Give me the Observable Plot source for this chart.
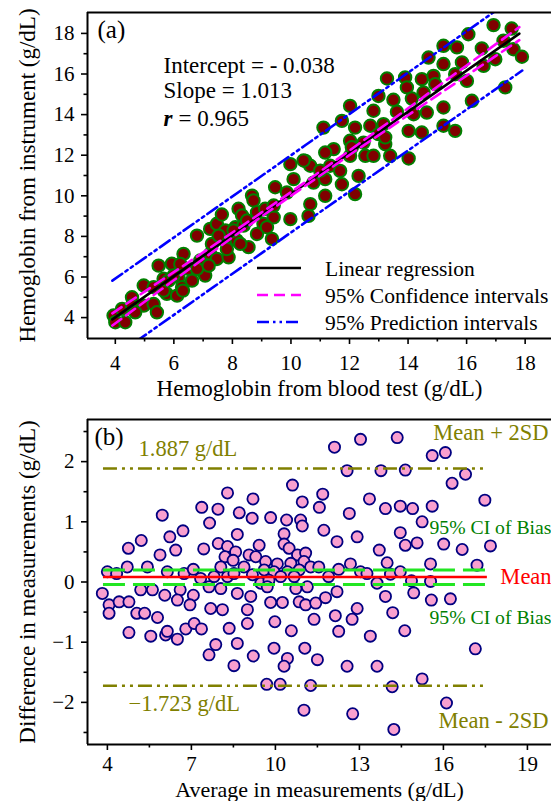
<!DOCTYPE html>
<html>
<head>
<meta charset="utf-8">
<script src="https://cdn.jsdelivr.net/npm/d3@7"></script>
<script src="https://cdn.jsdelivr.net/npm/@observablehq/plot@0.6"></script>
<style>
  html, body { margin: 0; padding: 0; background: #fff; }
  body { width: 551px; height: 801px; overflow: hidden; font-family: "Liberation Serif", "Times New Roman", serif; }
  #wrap { position: relative; width: 551px; height: 801px; }
  #panelA { position: absolute; left: 0; top: 0; }
  #panelB { position: absolute; left: 0; top: 395px; }
  #legendA { position: absolute; left: 0; top: 0; pointer-events: none; }
</style>
</head>
<body>
<div id="wrap">
  <div id="panelA"></div>
  <div id="panelB"></div>
</div>
<script>
// ---------------- Panel (a) data ----------------
const bloodTest = [
  3.94,4.00,4.34,4.23,4.57,4.57,4.97,4.97,5.31,5.31,5.48,5.65,5.76,5.93,6.11,6.16,6.28,6.33,6.50,6.62,
  6.79,6.90,7.02,7.07,7.24,7.30,7.24,7.47,7.47,7.64,7.76,7.81,7.87,8.10,8.15,8.21,8.33,8.38,8.55,8.67,
  8.72,8.84,8.84,9.06,9.12,9.35,9.41,9.41,9.46,
  4.68,5.42,5.65,5.82,5.99,6.22,6.31,6.79,7.19,7.53,7.81,8.04,8.27,8.50,9.18,
  16.92,17.54,17.26,17.60,17.89,16.06,15.21,15.67,16.52,14.70,15.21,15.84,16.58,16.98,15.61,16.01,16.18,17.32,
  13.28,13.90,13.96,14.47,14.87,14.93,14.53,12.99,13.50,14.13,12.02,12.82,13.62,14.19,14.64,15.21,11.11,11.74,
  12.19,12.71,13.16,14.02,14.47,15.21,15.61,11.46,12.02,12.48,12.99,13.22,13.39,14.02,11.17,12.02,12.54,12.82,
  9.98,10.49,10.66,11.34,11.68,12.31,10.09,10.77,11.17,11.74,12.19,11.17,10.66,9.86,9.98,10.60,
  10.43,11.00,12.08,13.22
];
const instrument = [
  4.10,3.77,3.77,4.43,5.00,4.59,4.59,5.58,4.67,5.50,6.56,5.91,5.17,6.65,5.08,5.99,5.50,7.14,6.40,5.82,
  8.04,6.81,6.23,6.07,7.14,7.63,8.37,8.62,6.89,9.08,8.29,7.71,6.97,8.45,7.80,9.36,9.03,8.53,7.47,10.01,
  9.77,8.12,9.19,8.62,9.36,7.88,8.94,9.52,10.42,
  4.26,4.26,5.33,5.82,6.07,6.64,5.33,6.40,6.56,8.04,7.38,8.29,7.63,8.78,8.45,
  18.41,18.24,17.64,17.22,16.85,17.96,17.39,17.31,17.26,16.81,16.49,16.57,16.40,16.73,15.99,15.66,14.68,15.34,
  15.78,15.83,15.34,15.75,15.91,15.50,15.09,14.92,14.73,14.79,14.43,14.19,14.14,14.02,14.10,14.35,13.36,13.69,
  13.36,13.45,13.53,13.20,13.12,13.45,13.20,12.30,12.71,12.62,13.04,12.54,11.97,11.84,12.13,11.97,11.97,11.97,
  11.56,11.72,11.48,11.48,11.23,10.98,10.82,10.65,10.82,10.57,10.08,10.00,9.59,10.16,8.85,9.01,
  11.74,11.24,12.39,12.88
];
// regression, 95% confidence and prediction bands
const regX = [3.9, 17.8];
const regY = [3.91, 17.99];
const ciX = [3.9, 5, 6, 7, 8, 9, 10, 11, 12, 13, 14, 15, 16, 17, 17.8];
const ciUpper = [4.21, 5.28, 6.24, 7.21, 8.19, 9.18, 10.18, 11.20, 12.23, 13.27, 14.31, 15.37, 16.42, 17.47, 18.31];
const ciLower = [3.61, 4.78, 5.84, 6.89, 7.95, 8.98, 10.00, 11.00, 12.01, 12.99, 13.97, 14.95, 15.92, 16.89, 17.67];
const predX = [3.9, 10.5, 17.9];
const predUpper = [5.82, 12.50, 20.04];
const predLower = [2.00, 8.70, 16.17];
const xDomainA = [3.05, 18.9];
const yDomainA = [2.97, 19.03];
const xTicksA = [4, 6, 8, 10, 12, 14, 16, 18];
const xMinorA = [5, 7, 9, 11, 13, 15, 17];
const yTicksA = [4, 6, 8, 10, 12, 14, 16, 18];
const yMinorA = [5, 7, 9, 11, 13, 15, 17];
const statsLabels = ["Intercept = - 0.038", "Slope = 1.013"];
const rLabel = ["r"];
const rValue = ["= 0.965"];
const legendLabels = ["Linear regression", "95% Confidence intervals", "95% Prediction intervals"];

// ---------------- Panel (b) data ----------------
const averageMeas = [
  10.61,8.29,9.20,10.96,7.37,7.95,5.96,8.71,9.17,9.83,
  10.40,10.90,10.96,7.65,6.70,8.64,6.23,5.21,4.75,6.44,
  5.88,7.44,7.96,8.29,8.58,9.42,10.31,10.31,10.49,10.79,
  11.08,8.20,8.49,9.06,9.30,9.65,10.07,10.55,11.02,11.26,
  4.71,5.43,4.00,4.33,6.14,6.74,7.07,8.05,8.88,9.60,
  9.95,10.43,10.85,7.33,7.81,8.29,8.52,9.18,9.48,9.77,
  10.19,10.67,3.82,5.19,5.61,6.05,6.60,6.50,7.07,7.63,
  8.05,8.64,9.12,9.71,10.73,11.14,4.06,4.06,4.42,4.77,
  5.05,5.33,5.79,6.95,7.69,8.11,9.00,9.83,10.25,10.85,
  11.08,11.44,11.38,9.00,4.77,5.55,6.08,6.14,6.50,6.80,
  7.10,7.36,8.35,9.98,10.57,7.87,7.63,8.64,8.52,9.21,
  9.95,10.43,10.31,11.05,11.50,9.69,10.17,11.26,11.02,
  12.11,13.04,14.35,15.60,16.07,12.56,13.77,14.64,16.79,16.31,
  11.69,11.57,13.36,12.64,13.93,14.46,14.90,15.60,15.24,17.48,
  11.73,12.20,12.92,14.46,14.64,15.06,16.01,16.67,17.68,13.71,
  13.99,12.68,12.26,13.04,13.27,14.11,14.46,15.54,17.20,11.55,
  11.90,13.63,14.86,15.54,12.20,11.79,13.93,14.94,15.57,16.25,
  12.14,12.74,12.92,14.19,12.26,13.39,14.62,17.14,12.56,13.63,
  15.24,14.17,16.11,12.76,14.23
];
const differenceMeas = [
  1.61,1.48,1.38,1.33,1.24,1.21,1.11,1.15,1.06,1.07,
  1.03,1.03,0.93,0.98,0.85,0.79,0.75,0.69,0.56,0.53,
  0.45,0.55,0.64,0.59,0.50,0.61,0.80,0.63,0.56,0.45,
  0.48,0.42,0.36,0.45,0.42,0.34,0.30,0.31,0.34,0.25,
  0.25,0.25,0.17,0.14,0.17,0.14,0.21,0.25,0.25,0.20,
  0.17,0.17,0.20,0.06,0.09,0.09,0.14,0.12,-0.02,0.03,
  0.09,0.09,-0.19,-0.13,-0.13,-0.22,-0.13,-0.30,-0.22,-0.08,
  -0.11,-0.19,-0.24,-0.08,-0.11,-0.08,-0.38,-0.52,-0.33,-0.33,
  -0.52,-0.52,-0.59,-0.38,-0.44,-0.46,-0.46,-0.34,-0.34,-0.33,
  -0.38,-0.35,-0.62,-0.69,-0.84,-0.90,-0.88,-0.82,-0.95,-0.78,
  -0.69,-0.78,-0.77,-0.66,-0.81,-1.04,-1.21,-1.02,-1.39,-1.23,
  -1.10,-1.27,-1.40,-1.10,-1.29,-1.70,-1.70,-1.72,-2.13,
  2.24,2.37,2.40,2.10,2.15,1.85,1.85,1.86,1.79,1.64,
  1.46,1.24,1.38,1.14,1.22,1.26,1.22,1.26,1.00,1.36,
  0.86,0.67,0.75,0.82,0.61,0.65,0.63,0.54,0.60,0.53,
  0.32,0.30,0.21,0.17,0.14,0.13,0.17,0.30,0.28,0.25,
  0.09,-0.02,0.02,0.01,-0.16,-0.26,-0.24,-0.18,-0.30,-0.28,
  -0.56,-0.62,-0.44,-0.51,-0.82,-0.90,-0.81,-1.11,-1.40,-1.40,
  -1.61,-1.74,-2.01,-2.19,-2.45
];
const meanBias = [0.082];
const upperLoA = [1.887];
const lowerLoA = [-1.723];
const ciBias = [-0.04, 0.20];
const refLineX = [3.86, 17.57];
const xDomainB = [3.29, 19.86];
const yDomainB = [-2.7, 2.7];
const xTicksB = [4, 7, 10, 13, 16, 19];
const xMinorB = [5.5, 8.5, 11.5, 14.5, 17.5];
const yTicksB = [-2, -1, 0, 1, 2];
const yMinorB = [-2.5, -1.5, -0.5, 0.5, 1.5, 2.5];
const upperLoALabel = ["1.887 g/dL"];
const lowerLoALabel = ["\u22121.723 g/dL"];
const upperSDLabel = ["Mean + 2SD"];
const lowerSDLabel = ["Mean - 2SD"];
const ciLabel = ["95% CI of Bias"];
const meanLabel = ["Mean"];

// ---------------- build tables ----------------
const ptsA = bloodTest.map((x, i) => ({x, y: instrument[i]}));
const regPts = regX.map((x, i) => ({x, y: regY[i]}));
const ciUpPts = ciX.map((x, i) => ({x, y: ciUpper[i]}));
const ciLoPts = ciX.map((x, i) => ({x, y: ciLower[i]}));
const predUpPts = predX.map((x, i) => ({x, y: predUpper[i]}));
const predLoPts = predX.map((x, i) => ({x, y: predLower[i]}));
const ptsB = averageMeas.map((a, i) => ({avg: a, diff: differenceMeas[i]}));

const FONT = '"Liberation Serif", "Times New Roman", serif';
const predDash = "12,4,2.5,4,2.5,4";
const ciDash = "11,6";
const loaDash = "14,5,3,5,3,5";
const intFmt = d => (d < 0 ? "\u2212" : "") + Math.abs(d);
const TICK = 21;
const TITLE = 23;

const svgA = Plot.plot({
  width: 551, height: 401,
  marginTop: 12, marginRight: 0, marginBottom: 63, marginLeft: 87,
  style: {fontFamily: FONT, fontSize: TICK + "px", color: "#000", background: "transparent"},
  x: {domain: xDomainA, label: null},
  y: {domain: yDomainA, label: null},
  marks: [
    Plot.dot(ptsA, {x: "x", y: "y", r: 6.2, fill: "#800000", stroke: "#008000", strokeWidth: 2}),
    Plot.line(predUpPts, {x: "x", y: "y", stroke: "#0000ff", strokeWidth: 2.6, strokeDasharray: predDash, clip: true}),
    Plot.line(predLoPts, {x: "x", y: "y", stroke: "#0000ff", strokeWidth: 2.6, strokeDasharray: predDash, clip: true}),
    Plot.line(regPts, {x: "x", y: "y", stroke: "#000", strokeWidth: 2.6}),
    Plot.line(ciUpPts, {x: "x", y: "y", stroke: "#ff00ff", strokeWidth: 2.6, strokeDasharray: ciDash, curve: "natural"}),
    Plot.line(ciLoPts, {x: "x", y: "y", stroke: "#ff00ff", strokeWidth: 2.6, strokeDasharray: ciDash, curve: "natural"}),
    Plot.ruleY([yDomainA[1]], {stroke: "#000", strokeWidth: 2}),
    Plot.ruleY([yDomainA[0]], {stroke: "#000", strokeWidth: 2}),
    Plot.ruleX([xDomainA[0]], {stroke: "#000", strokeWidth: 2}),
    Plot.axisX(xTicksA, {anchor: "bottom", tickSize: 6, tickPadding: 11, strokeWidth: 1.6, fontSize: TICK, tickFormat: intFmt, label: null}),
    Plot.axisX(xMinorA, {anchor: "bottom", tickSize: 3.5, strokeWidth: 1.6, tickFormat: () => "", label: null}),
    Plot.axisY(yTicksA, {anchor: "left", tickSize: 6, tickPadding: 7, strokeWidth: 1.6, fontSize: TICK, tickFormat: intFmt, label: null}),
    Plot.axisY(yMinorA, {anchor: "left", tickSize: 3.5, strokeWidth: 1.6, tickFormat: () => "", label: null}),
    Plot.text(["Hemoglobin from instrument (g/dL)"], {frameAnchor: "left", rotate: -90, dx: -60, textAnchor: "middle", fontSize: TITLE}),
    Plot.text(["Hemoglobin from blood test (g/dL)"], {frameAnchor: "bottom", dy: 57, lineAnchor: "bottom", textAnchor: "middle", fontSize: TITLE}),
    Plot.text(["(a)"], {frameAnchor: "top-left", dx: 10, dy: 25, lineAnchor: "bottom", textAnchor: "start", fontSize: 25}),
    Plot.text([statsLabels[0]], {frameAnchor: "top-left", dx: 76, dy: 60, lineAnchor: "bottom", textAnchor: "start", fontSize: TITLE}),
    Plot.text([statsLabels[1]], {frameAnchor: "top-left", dx: 76, dy: 85, lineAnchor: "bottom", textAnchor: "start", fontSize: TITLE}),
    Plot.text(rLabel, {frameAnchor: "top-left", dx: 76, dy: 113, lineAnchor: "bottom", textAnchor: "start", fontSize: TITLE, fontWeight: "bold", fontStyle: "italic"}),
    Plot.text(rValue, {frameAnchor: "top-left", dx: 91, dy: 113, lineAnchor: "bottom", textAnchor: "start", fontSize: TITLE})
  ]
});
document.getElementById("panelA").append(svgA);

// legend for panel (a)
const legendStyles = [
  {stroke: "#000", dash: null},
  {stroke: "#ff00ff", dash: ciDash},
  {stroke: "#0000ff", dash: predDash}
];
const leg = d3.select("#wrap").append("svg").attr("id", "legendA").attr("width", 551).attr("height", 395);
legendLabels.forEach((label, i) => {
  const yy = 268 + i * 27;
  leg.append("line").attr("x1", 257).attr("x2", 301).attr("y1", yy).attr("y2", yy)
    .attr("stroke", legendStyles[i].stroke).attr("stroke-width", 2.6)
    .attr("stroke-dasharray", legendStyles[i].dash);
  leg.append("text").attr("x", 325).attr("y", yy + 8).text(label)
    .attr("font-family", FONT).attr("font-size", 21.5).attr("fill", "#000");
});

// ---------------- Panel (b) ----------------
const svgB = Plot.plot({
  width: 551, height: 406,
  marginTop: 24, marginRight: 0, marginBottom: 57, marginLeft: 87,
  style: {fontFamily: FONT, fontSize: TICK + "px", color: "#000", background: "transparent"},
  x: {domain: xDomainB, label: null},
  y: {domain: yDomainB, label: null},
  marks: [
    Plot.dot(ptsB, {x: "avg", y: "diff", r: 5.6, fill: "#f99fcf", stroke: "#000080", strokeWidth: 1.8}),
    Plot.ruleY(upperLoA, {x1: refLineX[0], x2: refLineX[1], stroke: "#808000", strokeWidth: 2.6, strokeDasharray: loaDash}),
    Plot.ruleY(lowerLoA, {x1: refLineX[0], x2: refLineX[1], stroke: "#808000", strokeWidth: 2.6, strokeDasharray: loaDash}),
    Plot.ruleY(ciBias, {x1: refLineX[0], x2: refLineX[1], stroke: "#22e622", strokeWidth: 3, strokeDasharray: "22,8"}),
    Plot.ruleY(meanBias, {x1: refLineX[0], x2: refLineX[1], stroke: "#ff0000", strokeWidth: 2.6}),
    Plot.ruleY([yDomainB[1]], {stroke: "#000", strokeWidth: 2}),
    Plot.ruleY([yDomainB[0]], {stroke: "#000", strokeWidth: 2}),
    Plot.ruleX([xDomainB[0]], {stroke: "#000", strokeWidth: 2}),
    Plot.axisX(xTicksB, {anchor: "bottom", tickSize: 6, tickPadding: 6, strokeWidth: 1.6, fontSize: TICK, tickFormat: intFmt, label: null}),
    Plot.axisX(xMinorB, {anchor: "bottom", tickSize: 3.5, strokeWidth: 1.6, tickFormat: () => "", label: null}),
    Plot.axisY(yTicksB, {anchor: "left", tickSize: 6, tickPadding: 7, strokeWidth: 1.6, fontSize: TICK, tickFormat: intFmt, label: null}),
    Plot.axisY(yMinorB, {anchor: "left", tickSize: 3.5, strokeWidth: 1.6, tickFormat: () => "", label: null}),
    Plot.text(["Difference in measurements (g/dL)"], {frameAnchor: "left", rotate: -90, dx: -60, textAnchor: "middle", fontSize: TITLE}),
    Plot.text(["Average in measurements (g/dL)"], {frameAnchor: "bottom", dy: 52, lineAnchor: "bottom", textAnchor: "middle", fontSize: 22}),
    Plot.text(["(b)"], {frameAnchor: "top-left", dx: 7, dy: 25, lineAnchor: "bottom", textAnchor: "start", fontSize: 25}),
    Plot.text(upperLoALabel, {y: upperLoA, frameAnchor: "left", dx: 51, dy: -12, lineAnchor: "bottom", textAnchor: "start", fill: "#808000", fontSize: 22.5}),
    Plot.text(lowerLoALabel, {y: lowerLoA, frameAnchor: "left", dx: 41, dy: 25, lineAnchor: "bottom", textAnchor: "start", fill: "#808000", fontSize: 22.5}),
    Plot.text(upperSDLabel, {y: upperLoA, frameAnchor: "right", dx: -3, dy: -28, lineAnchor: "bottom", textAnchor: "end", fill: "#808000", fontSize: 22.5}),
    Plot.text(lowerSDLabel, {y: lowerLoA, frameAnchor: "right", dx: -3, dy: 42, lineAnchor: "bottom", textAnchor: "end", fill: "#808000", fontSize: 22.5}),
    Plot.text(ciLabel, {y: [ciBias[1]], frameAnchor: "left", dx: 342, dy: -36, lineAnchor: "bottom", textAnchor: "start", fill: "#008000", fontSize: 19.7}),
    Plot.text(ciLabel, {y: [ciBias[0]], frameAnchor: "left", dx: 342, dy: 40, lineAnchor: "bottom", textAnchor: "start", fill: "#008000", fontSize: 19.7}),
    Plot.text(meanLabel, {x: [refLineX[1]], y: meanBias, dx: 13, lineAnchor: "middle", textAnchor: "start", fill: "#ff0000", fontSize: 22.5})
  ]
});
document.getElementById("panelB").append(svgB);
</script>
</body>
</html>
